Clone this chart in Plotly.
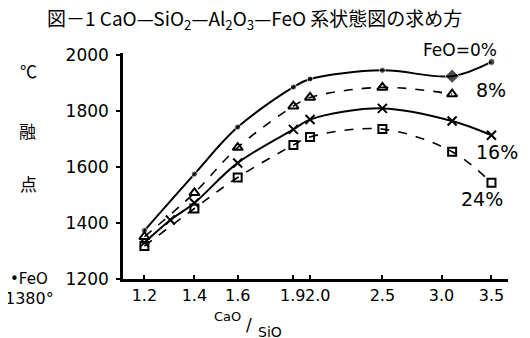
import math
import plotly.graph_objects as go

# Data (CaO/SiO2 ratio vs melting point, deg C)
x_feo0 = [1.2, 1.4, 1.6, 1.9, 2.0, 2.5, 3.1, 3.5]
y_feo0 = [1373, 1575, 1743, 1886, 1915, 1946, 1925, 1976]

x_feo8 = [1.2, 1.4, 1.6, 1.9, 2.0, 2.5, 3.1]
y_feo8 = [1351, 1508, 1670, 1818, 1849, 1885, 1861]

x_feo16 = [1.2, 1.3, 1.4, 1.6, 1.9, 2.0, 2.5, 3.1, 3.5]
y_feo16 = [1330, 1411, 1472, 1615, 1735, 1770, 1810, 1765, 1714]

x_feo24 = [1.2, 1.4, 1.6, 1.9, 2.0, 2.5, 3.1, 3.5]
y_feo24 = [1318, 1452, 1563, 1679, 1708, 1736, 1655, 1544]

x_ticks = [1.2, 1.4, 1.6, 1.9, 2.0, 2.5, 3.0, 3.5]
x_tick_text = ["1.2", "1.4", "1.6", "", "", "2.5", "3.0", "3.5"]
x_close_ticks = [1.9, 2.0]          # labels drawn separately (they touch)
x_close_text = ["1.9", "2.0"]
y_ticks = [1200, 1400, 1600, 1800, 2000]

series_labels = ["FeO=0%", "8%", "16%", "24%"]

# page has an 8px body margin: size the figure to the visible area
OFF = 8
W, H = 530 - OFF, 338 - OFF
ML, MR, MT, MB = 123 - OFF, 22, 53 - OFF, 59
PW, PH = W - ML - MR, H - MT - MB

fig = go.Figure()

fig.add_trace(go.Scatter(
    x=x_feo0, y=y_feo0, mode="lines+markers", line_shape="spline",
    line=dict(color="black", width=2),
    marker=dict(symbol=["circle"] * 6 + ["diamond", "circle"],
                size=[6] * 6 + [11, 7], color="black"),
    showlegend=False))
fig.add_trace(go.Scatter(
    x=x_feo8, y=y_feo8, mode="lines+markers", line_shape="spline",
    line=dict(color="black", width=1.6, dash="dash"),
    marker=dict(symbol="triangle-up-open", size=9, color="black",
                line=dict(width=2)),
    showlegend=False))
fig.add_trace(go.Scatter(
    x=x_feo16, y=y_feo16, mode="lines+markers", line_shape="spline",
    line=dict(color="black", width=2),
    marker=dict(symbol="x-thin-open", size=9, color="black",
                line=dict(width=2, color="black")),
    showlegend=False))
fig.add_trace(go.Scatter(
    x=x_feo24, y=y_feo24, mode="lines+markers", line_shape="spline",
    line=dict(color="black", width=1.6, dash="dash"),
    marker=dict(symbol="square-open", size=8, color="black",
                line=dict(width=2)),
    showlegend=False))

font_main = "DejaVu Sans"
cjk = "Noto Sans CJK JP"

fig.update_layout(
    width=W, height=H,
    margin=dict(l=ML, r=MR, t=MT, b=MB),
    paper_bgcolor="white", plot_bgcolor="white",
    xaxis=dict(type="log", range=[0.0505, 0.5662],
               tickvals=x_ticks, ticktext=x_tick_text, tickangle=0,
               ticks="inside", ticklen=4, tickwidth=2, tickcolor="black",
               showline=True, linecolor="black", linewidth=2.5,
               showgrid=False, zeroline=False,
               tickfont=dict(family=font_main, size=16, color="black")),
    yaxis=dict(range=[1200, 2008], tickvals=y_ticks,
               ticks="outside", ticklen=4, tickwidth=2, tickcolor="black",
               showline=True, linecolor="black", linewidth=2.5,
               showgrid=False, zeroline=False, ticklabelstandoff=4,
               tickfont=dict(family=font_main, size=17, color="black")),
)

ann = []
ann.append(dict(text="図－1 CaO—SiO<sub>2</sub>—Al<sub>2</sub>O<sub>3</sub>—FeO 系状態図の求め方",
                x=254, y=19, font=dict(size=19, family=cjk)))
label_pos = [(460, 50, 17), (491, 90, 19), (497, 152, 19), (482, 199, 19)]
for t, (px, py, fs) in zip(series_labels, label_pos):
    ann.append(dict(text=t, x=px, y=py, font=dict(size=fs, family=font_main)))
ann.append(dict(text="℃", x=28, y=70, font=dict(size=17, family=cjk)))
ann.append(dict(text="融", x=27, y=130, font=dict(size=17, family=cjk)))
ann.append(dict(text="点", x=28, y=183, font=dict(size=17, family=cjk)))
ann.append(dict(text="•FeO", x=50, y=279, xanchor="right", font=dict(size=15, family=font_main)))
ann.append(dict(text="1380°", x=56, y=298, xanchor="right", font=dict(size=16, family=font_main)))
ann.append(dict(text="CaO", x=227, y=316, font=dict(size=13, family=font_main)))
ann.append(dict(text="/", x=249, y=325, font=dict(size=17, family=font_main)))
ann.append(dict(text="SiO", x=270, y=332, font=dict(size=14, family=font_main)))

annotations = []
for a in ann:
    annotations.append(dict(
        showarrow=False, xref="paper", yref="paper",
        xanchor=a.get("xanchor", "center"), yanchor="middle", text=a["text"],
        font=dict(color="black", **a["font"]),
        # screen pixel -> paper fraction
        x=(a["x"] - OFF - ML) / PW,
        y=(H - (a["y"] - OFF) - MB) / PH))

for v, t, shift in zip(x_close_ticks, x_close_text, [-1, 7]):
    annotations.append(dict(text=t, x=math.log10(v), xref="x",
                            y=0, yref="paper", yanchor="top", yshift=-5,
                            xanchor="center", xshift=shift, showarrow=False,
                            font=dict(family=font_main, size=16, color="black")))
fig.update_layout(annotations=annotations)

fig.write_html("out.html")
